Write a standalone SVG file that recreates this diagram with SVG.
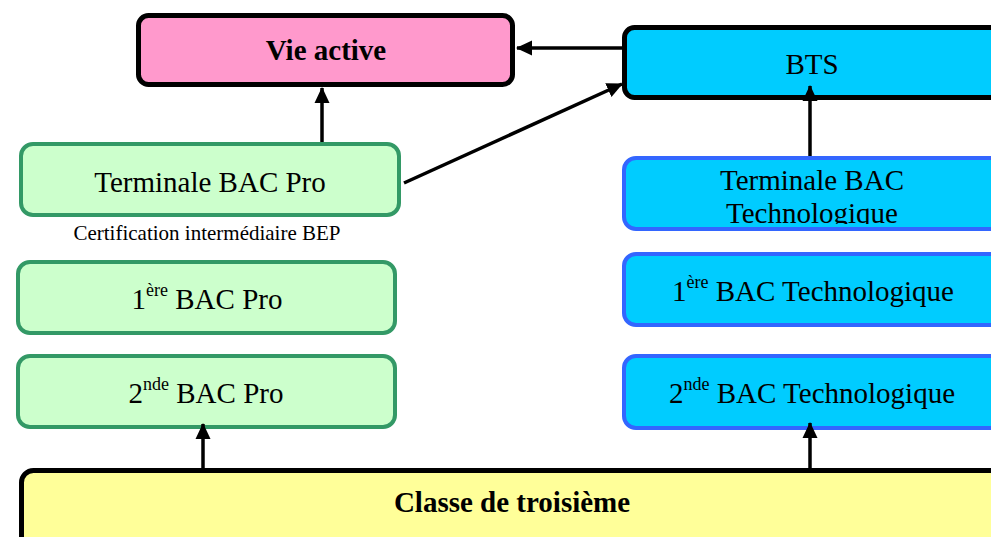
<svg xmlns="http://www.w3.org/2000/svg" width="991" height="537" viewBox="0 0 991 537">
<style>
text{font-family:"Liberation Serif","Times New Roman",serif;font-size:29px;fill:#000;text-anchor:middle}
.b{font-weight:bold}
.sm{font-size:21px}
.sup{font-size:18px}
.pro{fill:#ccffcc;stroke:#339966;stroke-width:4}
.tec{fill:#00ccff;stroke:#3366ff;stroke-width:4}
.blk{stroke:#000;stroke-width:5}
.edge{stroke:#000;stroke-width:3.5;fill:none;marker-end:url(#ah)}
</style>
<defs>
<marker id="ah" markerUnits="userSpaceOnUse" markerWidth="16" markerHeight="16" viewBox="0 0 16 16" refX="15" refY="8" orient="auto">
<path d="M0,0.5 L16,8 L0,15.5 Z" fill="#000"/>
</marker>
<clipPath id="clipT"><rect x="622" y="156" width="390" height="68"/></clipPath>
</defs>
<g id="vie-active">
<rect x="138.5" y="15.5" width="374" height="69" rx="10" fill="#ff99cc" class="blk"/>
<text x="326" y="60" class="b">Vie active</text>
</g>
<g id="bts">
<rect x="624.5" y="27.5" width="390" height="70" rx="10" fill="#00ccff" class="blk"/>
<text x="812" y="74">BTS</text>
</g>
<g id="terminale-pro">
<rect x="21" y="144" width="378" height="71" rx="12" class="pro"/>
<text x="210" y="192">Terminale BAC Pro</text>
</g>
<g id="certification">
<text x="207" y="240" class="sm">Certification intermédiaire BEP</text>
</g>
<g id="premiere-pro">
<rect x="18" y="262" width="377" height="71" rx="12" class="pro"/>
<text x="207" y="309">1<tspan class="sup" dy="-13">ère</tspan><tspan dy="13"> BAC Pro</tspan></text>
</g>
<g id="seconde-pro">
<rect x="18" y="356" width="377" height="71" rx="12" class="pro"/>
<text x="206" y="403">2<tspan class="sup" dy="-13">nde</tspan><tspan dy="13"> BAC Pro</tspan></text>
</g>
<g id="terminale-techno">
<rect x="624" y="158" width="386" height="71" rx="12" class="tec"/>
<g clip-path="url(#clipT)">
<text x="812" y="190">Terminale BAC</text>
<text x="812" y="223">Technologique</text>
</g>
</g>
<g id="premiere-techno">
<rect x="624" y="254" width="386" height="71" rx="12" class="tec"/>
<text x="813" y="301">1<tspan class="sup" dy="-13">ère</tspan><tspan dy="13"> BAC Technologique</tspan></text>
</g>
<g id="seconde-techno">
<rect x="624" y="356" width="386" height="72" rx="12" class="tec"/>
<text x="812" y="403">2<tspan class="sup" dy="-13">nde</tspan><tspan dy="13"> BAC Technologique</tspan></text>
</g>
<g id="troisieme">
<rect x="21.5" y="470.5" width="990" height="90" rx="12" fill="#ffff99" class="blk"/>
<text x="512" y="512" class="b">Classe de troisième</text>
</g>
<g id="connectors">
<line x1="622" y1="48" x2="517" y2="48" class="edge"/>
<line x1="404" y1="183" x2="622" y2="84" class="edge"/>
<line x1="322" y1="142" x2="322" y2="88" class="edge"/>
<line x1="810" y1="156" x2="810" y2="86" class="edge"/>
<line x1="203" y1="468" x2="203" y2="424" class="edge"/>
<line x1="810" y1="468" x2="810" y2="423" class="edge"/>
</g>
</svg>
